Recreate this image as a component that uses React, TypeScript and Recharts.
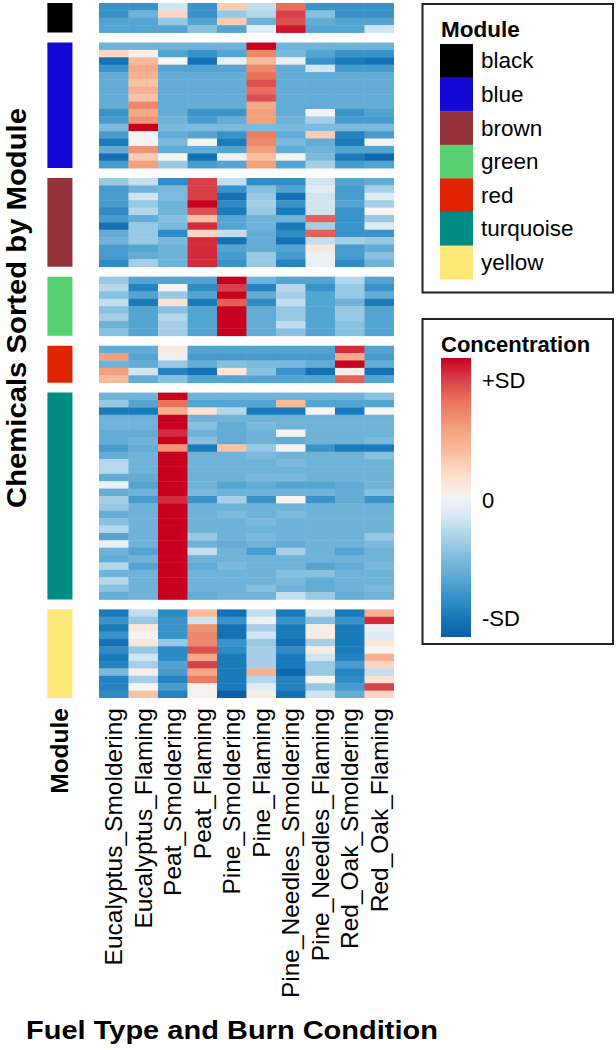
import React from "react";
import { ScatterChart, Scatter, XAxis, YAxis, ReferenceArea } from "recharts";

// burn conditions (columns)
const conditions = [
  "Eucalyptus_Smoldering",
  "Eucalyptus_Flaming",
  "Peat_Smoldering",
  "Peat_Flaming",
  "Pine_Smoldering",
  "Pine_Flaming",
  "Pine_Needles_Smoldering",
  "Pine_Needles_Flaming",
  "Red_Oak_Smoldering",
  "Red_Oak_Flaming",
];

// scaled concentration, -1 = -SD, 1 = +SD
const black = [
  [-0.7, -0.7, -0.15, -0.7, 0.25, -0.2, 0.7, -0.7, -0.7, -0.7],
  [-0.7, -0.5, 0.2, -0.7, -0.35, -0.25, 0.85, -0.4, -0.7, -0.7],
  [-0.6, -0.6, -0.35, -0.6, 0.25, -0.5, 0.8, -0.55, -0.6, -0.6],
  [-0.6, -0.6, -0.6, -0.4, -0.6, -0.1, 0.95, -0.6, -0.6, -0.15],
];
const blue = [
  [-0.5, -0.5, -0.5, -0.5, -0.5, 1.0, -0.5, -0.5, -0.5, -0.5],
  [0.2, 0.02, -0.6, -0.7, -0.6, 0.6, -0.45, -0.6, -0.7, -0.7],
  [-0.9, 0.35, 0, -0.9, -0.05, 0.35, -0.05, -0.7, -0.85, -0.9],
  [-0.7, 0.45, -0.6, -0.6, -0.6, 0.6, -0.55, -0.15, -0.65, -0.65],
  [-0.55, 0.4, -0.55, -0.55, -0.55, 0.7, -0.55, -0.55, -0.55, -0.55],
  [-0.55, 0.3, -0.55, -0.55, -0.55, 0.8, -0.55, -0.55, -0.55, -0.55],
  [-0.55, 0.4, -0.55, -0.55, -0.55, 0.7, -0.55, -0.55, -0.55, -0.55],
  [-0.55, 0.3, -0.55, -0.55, -0.55, 0.8, -0.55, -0.55, -0.55, -0.55],
  [-0.55, 0.6, -0.55, -0.55, -0.55, 0.45, -0.55, -0.55, -0.55, -0.55],
  [-0.7, 0.45, -0.55, -0.7, -0.7, 0.5, -0.55, 0, -0.7, -0.6],
  [-0.65, 0.55, -0.5, -0.65, -0.55, 0.5, -0.5, -0.3, -0.65, -0.65],
  [-0.45, 1.0, -0.45, -0.45, -0.45, -0.45, -0.45, -0.45, -0.45, -0.45],
  [-0.65, 0, -0.55, -0.6, -0.7, 0.65, -0.55, 0.25, -0.8, -0.65],
  [-0.85, 0, -0.45, 0, -0.85, 0.6, -0.45, -0.55, -0.85, 0],
  [-0.55, 0.55, -0.55, -0.55, -0.6, 0.5, -0.55, -0.5, -0.6, -0.6],
  [-0.9, 0.25, 0, -0.9, -0.05, 0.3, 0, -0.45, -0.85, -0.95],
  [-0.65, 0.5, -0.35, -0.65, -0.6, 0.5, -0.6, -0.3, -0.65, -0.6],
];
const brown = [
  [-0.35, -0.2, -0.75, 0.85, -0.2, -0.75, -0.75, -0.15, -0.6, -0.55],
  [-0.65, -0.5, -0.45, 0.85, -0.7, -0.4, -0.6, -0.1, -0.65, -0.3],
  [-0.65, -0.15, -0.45, 0.85, -0.9, -0.35, -0.9, -0.15, -0.65, -0.1],
  [-0.65, -0.35, -0.5, 1.0, -0.75, -0.3, -0.7, -0.15, -0.6, -0.3],
  [-0.75, -0.25, -0.5, 0.8, -0.85, -0.35, -0.85, -0.15, -0.7, 0],
  [-0.65, -0.55, -0.4, 0.3, -0.6, -0.5, -0.5, 0.75, -0.7, -0.35],
  [-0.9, -0.35, -0.45, 0.9, -0.6, -0.5, -0.85, -0.3, -0.7, -0.1],
  [-0.55, -0.35, -0.75, 0.2, -0.2, -0.55, -0.75, 0.75, -0.7, -0.7],
  [-0.5, -0.35, -0.45, 0.9, -0.9, -0.55, -0.9, -0.2, -0.3, -0.35],
  [-0.65, -0.6, -0.5, 0.9, -0.6, -0.55, -0.6, 0.1, -0.65, -0.55],
  [-0.65, -0.55, -0.5, 0.9, -0.65, -0.35, -0.65, -0.05, -0.65, -0.4],
  [-0.75, -0.3, -0.5, 0.9, -0.7, -0.35, -0.8, -0.05, -0.75, -0.5],
];
const green = [
  [-0.35, -0.6, -0.6, -0.6, 1.0, -0.5, -0.6, -0.6, -0.25, -0.6],
  [-0.25, -0.8, 0, -0.75, 0.85, -0.8, -0.25, -0.7, -0.35, -0.7],
  [-0.4, -0.6, -0.35, -0.6, 1.0, -0.55, -0.3, -0.6, -0.35, -0.55],
  [-0.2, -0.85, 0.15, -0.85, 0.75, -0.75, -0.2, -0.6, -0.5, -0.85],
  [-0.4, -0.6, -0.4, -0.6, 1.0, -0.55, -0.35, -0.6, -0.35, -0.6],
  [-0.3, -0.6, -0.25, -0.6, 1.0, -0.55, -0.35, -0.6, -0.35, -0.6],
  [-0.5, -0.6, -0.3, -0.6, 1.0, -0.55, -0.2, -0.6, -0.4, -0.6],
  [-0.4, -0.6, -0.3, -0.6, 1.0, -0.55, -0.4, -0.6, -0.4, -0.6],
];
const red = [
  [-0.55, -0.55, 0.08, -0.6, -0.6, -0.6, -0.6, -0.6, 0.9, -0.6],
  [0.5, -0.6, -0.05, -0.65, -0.65, -0.65, -0.65, -0.65, 0.45, -0.65],
  [-0.5, -0.55, -0.35, -0.55, -0.4, -0.45, -0.45, -0.55, 1.0, -0.55],
  [0.5, -0.15, -0.8, -0.9, 0.12, -0.4, -0.7, -0.9, 0.05, -0.9],
  [0.35, -0.55, -0.4, -0.6, -0.6, -0.6, -0.6, -0.6, 0.75, -0.6],
];
const turquoise = [
  [-0.5, -0.5, 1.0, -0.5, -0.5, -0.5, -0.5, -0.5, -0.5, -0.4],
  [-0.35, -0.6, 0.7, -0.6, -0.6, -0.6, 0.35, -0.6, -0.6, -0.6],
  [-0.85, -0.85, 0.4, 0.15, -0.25, -0.85, -0.85, 0, -0.85, 0],
  [-0.5, -0.5, 1.0, -0.5, -0.5, -0.5, -0.5, -0.5, -0.5, -0.5],
  [-0.5, -0.5, 1.0, -0.4, -0.55, -0.45, -0.5, -0.5, -0.5, -0.5],
  [-0.55, -0.55, 0.9, -0.5, -0.55, -0.5, 0, -0.5, -0.5, -0.5],
  [-0.55, -0.5, 1.0, -0.4, -0.55, -0.5, -0.55, -0.5, -0.5, -0.45],
  [-0.65, -0.55, 0.55, -0.85, 0.3, -0.35, 0, -0.7, -0.85, -0.85],
  [-0.55, -0.5, 1.0, -0.5, -0.5, -0.45, -0.5, -0.5, -0.5, -0.4],
  [-0.25, -0.5, 1.0, -0.5, -0.5, -0.5, -0.45, -0.5, -0.5, -0.5],
  [-0.25, -0.5, 1.0, -0.5, -0.5, -0.5, -0.5, -0.5, -0.5, -0.5],
  [-0.55, -0.55, 1.0, -0.5, -0.5, -0.45, -0.45, -0.5, -0.5, -0.5],
  [-0.05, -0.6, 1.0, -0.5, -0.6, -0.55, -0.6, -0.6, -0.55, -0.5],
  [-0.55, -0.5, 1.0, -0.45, -0.5, -0.5, -0.5, -0.5, -0.55, -0.4],
  [-0.3, -0.65, 0.9, -0.7, -0.3, -0.7, 0, -0.7, -0.55, -0.7],
  [-0.35, -0.5, 1.0, -0.5, -0.5, -0.5, -0.5, -0.5, -0.5, -0.5],
  [-0.55, -0.5, 1.0, -0.5, -0.45, -0.5, -0.45, -0.5, -0.5, -0.5],
  [-0.4, -0.5, 1.0, -0.5, -0.5, -0.45, -0.5, -0.5, -0.5, -0.5],
  [-0.25, -0.5, 1.0, -0.5, -0.5, -0.5, -0.5, -0.5, -0.5, -0.5],
  [-0.6, -0.5, 1.0, -0.35, -0.5, -0.45, -0.5, -0.5, -0.5, -0.35],
  [-0.05, -0.5, 1.0, -0.5, -0.55, -0.5, -0.55, -0.5, -0.5, -0.45],
  [-0.5, -0.6, 1.0, -0.2, -0.5, -0.65, -0.3, -0.5, -0.6, -0.5],
  [-0.55, -0.5, 1.0, -0.5, -0.5, -0.5, -0.5, -0.5, -0.5, -0.5],
  [-0.25, -0.6, 1.0, -0.55, -0.45, -0.5, -0.5, -0.6, -0.55, -0.45],
  [-0.5, -0.5, 1.0, -0.5, -0.5, -0.5, -0.4, -0.4, -0.5, -0.5],
  [-0.25, -0.5, 1.0, -0.5, -0.5, -0.5, -0.45, -0.55, -0.5, -0.5],
  [-0.4, -0.5, 1.0, -0.5, -0.5, -0.4, -0.5, -0.55, -0.5, -0.45],
  [-0.55, -0.5, 1.0, -0.55, -0.5, -0.5, -0.2, -0.35, -0.55, -0.5],
];
const yellow = [
  [-0.85, -0.2, -0.75, 0.35, -0.9, -0.2, -0.85, -0.15, -0.85, 0.4],
  [-0.7, -0.35, -0.7, -0.15, -0.7, -0.05, -0.7, -0.4, -0.7, 0.9],
  [-0.85, 0.1, -0.7, 0.55, -0.9, -0.3, -0.85, 0.05, -0.85, -0.05],
  [-0.7, 0, -0.7, 0.6, -0.9, -0.15, -0.85, 0.05, -0.85, -0.1],
  [-0.9, 0.1, -0.35, 0.6, -0.7, -0.35, -0.9, -0.3, -0.85, 0.1],
  [-0.75, -0.35, -0.75, 0.8, -0.75, -0.3, -0.75, 0.05, -0.85, 0],
  [-0.85, -0.15, -0.75, 0.45, -0.85, -0.3, -0.85, -0.15, -0.8, 0.4],
  [-0.8, -0.3, -0.6, 0.85, -0.85, -0.3, -0.85, -0.35, -0.65, 0.2],
  [-0.45, 0.05, -0.65, 0.45, -0.85, 0.4, -0.95, -0.35, -0.8, -0.2],
  [-0.8, -0.3, -0.8, 0.65, -0.85, -0.25, -0.8, 0, -0.75, 0.15],
  [-0.8, 0, -0.65, 0.02, -0.85, -0.1, -0.8, -0.35, -0.65, 0.85],
  [-0.75, 0.3, -0.8, 0.02, -1.0, 0.05, -0.9, -0.15, -0.55, 0.2],
];

const moduleNames = ["black", "blue", "brown", "green", "red", "turquoise", "yellow"];
const moduleColors = ["#000000", "#1409d4", "#94343a", "#57d06f", "#e12400", "#008b84", "#fde877"];
const moduleRows = [black, blue, brown, green, red, turquoise, yellow];

const scaleLabels = ["+SD", "0", "-SD"];

// layout
const W = 616;
const H = 1050;
const M = { top: 3, right: 222, bottom: 12, left: 40 };
const X_AXIS_H = 340;
const GAP = 1.35; // space between modules, in rows
const FONT = '"Liberation Sans", Arial, Helvetica, sans-serif';

// colour ramp
const STOPS: [number, string][] = [
  [-1.0, "#0b5ea8"],
  [-0.85, "#1a7bbb"],
  [-0.7, "#3993c9"],
  [-0.55, "#62acd6"],
  [-0.4, "#88c0e0"],
  [-0.25, "#b5d7eb"],
  [-0.1, "#dfecf4"],
  [0, "#f5f4f3"],
  [0.15, "#fce0d0"],
  [0.3, "#f9c2a5"],
  [0.5, "#f4a07c"],
  [0.7, "#e8705a"],
  [0.85, "#d8404a"],
  [1.0, "#c8001f"],
];
const hex = (s: string) => [1, 3, 5].map((i) => parseInt(s.slice(i, i + 2), 16));
const shade = (v: number) => {
  const t = Math.max(-1, Math.min(1, v));
  for (let i = 1; i < STOPS.length; i++) {
    const [v1, c1] = STOPS[i];
    if (t <= v1) {
      const [v0, c0] = STOPS[i - 1];
      const f = (t - v0) / (v1 - v0);
      const a = hex(c0);
      const b = hex(c1);
      const rgb = a.map((x, k) => Math.round(x + (b[k] - x) * f));
      return `rgb(${rgb.join(",")})`;
    }
  }
  return STOPS[STOPS.length - 1][1];
};

// rows -> cells, with a gap between modules
const cells: { x: number; y: number; v: number }[] = [];
const modules: { name: string; color: string; y1: number; y2: number }[] = [];
let offset = 0;
moduleRows.forEach((rows, m) => {
  rows.forEach((row, r) => {
    row.forEach((v, c) => cells.push({ x: c + 0.5, y: offset + r + 0.5, v }));
  });
  modules.push({ name: moduleNames[m], color: moduleColors[m], y1: offset, y2: offset + rows.length });
  offset += rows.length + (m < moduleRows.length - 1 ? GAP : 0);
});
const TOTAL = offset;

const X_MIN = -2;
const X_MAX = 10;
const PLOT_W = W - M.left - M.right;
const PLOT_H = H - M.top - M.bottom - X_AXIS_H;
const CELL_W = PLOT_W / (X_MAX - X_MIN);
const CELL_H = PLOT_H / TOTAL;

const BAR_X1 = -1.75;
const BAR_X2 = -0.9;
const MODULE_TICK = (BAR_X1 + BAR_X2) / 2;
const xTicks = [MODULE_TICK, ...conditions.map((_, i) => i + 0.5)];

const renderCell = (props: any) => {
  const { cx, cy, payload } = props;
  return (
    <rect
      x={cx - CELL_W / 2}
      y={cy - CELL_H / 2}
      width={CELL_W + 0.4}
      height={CELL_H + 0.4}
      fill={shade(payload.v)}
    />
  );
};

const ConditionTick = (props: any) => {
  const { x, y, payload } = props;
  const isModule = payload.value < 0;
  const label = isModule ? "Module" : conditions[Math.floor(payload.value)];
  return (
    <text
      transform={`translate(${x},${y}) rotate(-90)`}
      textAnchor="end"
      dominantBaseline="central"
      fontFamily={FONT}
      fontSize={24.5}
      fontWeight={isModule ? 700 : 400}
      fill="#000"
    >
      {label}
    </text>
  );
};

export default function App() {
  const swatchH = 33.6;
  return (
    <div style={{ position: "absolute", left: 0, top: 0, width: W, height: H, background: "#fff" }}>
      <ScatterChart width={W} height={H} margin={M}>
        <XAxis
          type="number"
          dataKey="x"
          domain={[X_MIN, X_MAX]}
          ticks={xTicks}
          interval={0}
          height={X_AXIS_H}
          axisLine={false}
          tickLine={false}
          tickSize={0}
          tickMargin={10}
          tick={<ConditionTick />}
          allowDataOverflow
        />
        <YAxis type="number" dataKey="y" domain={[0, TOTAL]} reversed hide allowDataOverflow />
        {modules.map((m) => (
          <ReferenceArea
            key={m.name}
            x1={BAR_X1}
            x2={BAR_X2}
            y1={m.y1}
            y2={m.y2}
            fill={m.color}
            fillOpacity={1}
            stroke="none"
            ifOverflow="visible"
          />
        ))}
        <Scatter data={cells} shape={renderCell} isAnimationActive={false} />
      </ScatterChart>

      <svg width={W} height={H} style={{ position: "absolute", left: 0, top: 0, pointerEvents: "none" }} fontFamily={FONT}>
        <defs>
          <linearGradient id="conc" x1="0" y1="0" x2="0" y2="1">
            {STOPS.slice()
              .reverse()
              .map(([v, c]) => (
                <stop key={v} offset={`${((1 - v) / 2) * 100}%`} stopColor={c} />
              ))}
          </linearGradient>
        </defs>

        <text
          transform="translate(26,308) rotate(-90)"
          textAnchor="middle"
          fontSize={28}
          fontWeight={700}
          textLength={400}
          lengthAdjust="spacingAndGlyphs"
        >
          Chemicals Sorted by Module
        </text>
        <text x={26} y={1039} fontSize={26} fontWeight={700} textLength={412} lengthAdjust="spacingAndGlyphs">
          Fuel Type and Burn Condition
        </text>

        {/* module legend */}
        <rect x={422.5} y={4} width={190.5} height={288.5} fill="#fff" stroke="#222" strokeWidth={2} />
        <text x={441} y={37} fontSize={22.5} fontWeight={700}>
          Module
        </text>
        {moduleNames.map((n, i) => (
          <g key={n}>
            <rect x={440} y={44 + i * swatchH} width={33} height={swatchH + 0.3} fill={moduleColors[i]} />
            <text x={481} y={44 + i * swatchH + swatchH / 2} dominantBaseline="central" fontSize={22.5}>
              {n}
            </text>
          </g>
        ))}

        {/* concentration legend */}
        <rect x={422.5} y={319} width={190.5} height={325} fill="#fff" stroke="#222" strokeWidth={2} />
        <text x={441} y={352} fontSize={22} fontWeight={700}>
          Concentration
        </text>
        <rect x={441} y={358} width={30} height={279} fill="url(#conc)" />
        {scaleLabels.map((l, i) => (
          <text key={l} x={482} y={[380, 500, 618][i]} dominantBaseline="central" fontSize={22}>
            {l}
          </text>
        ))}
      </svg>
    </div>
  );
}
